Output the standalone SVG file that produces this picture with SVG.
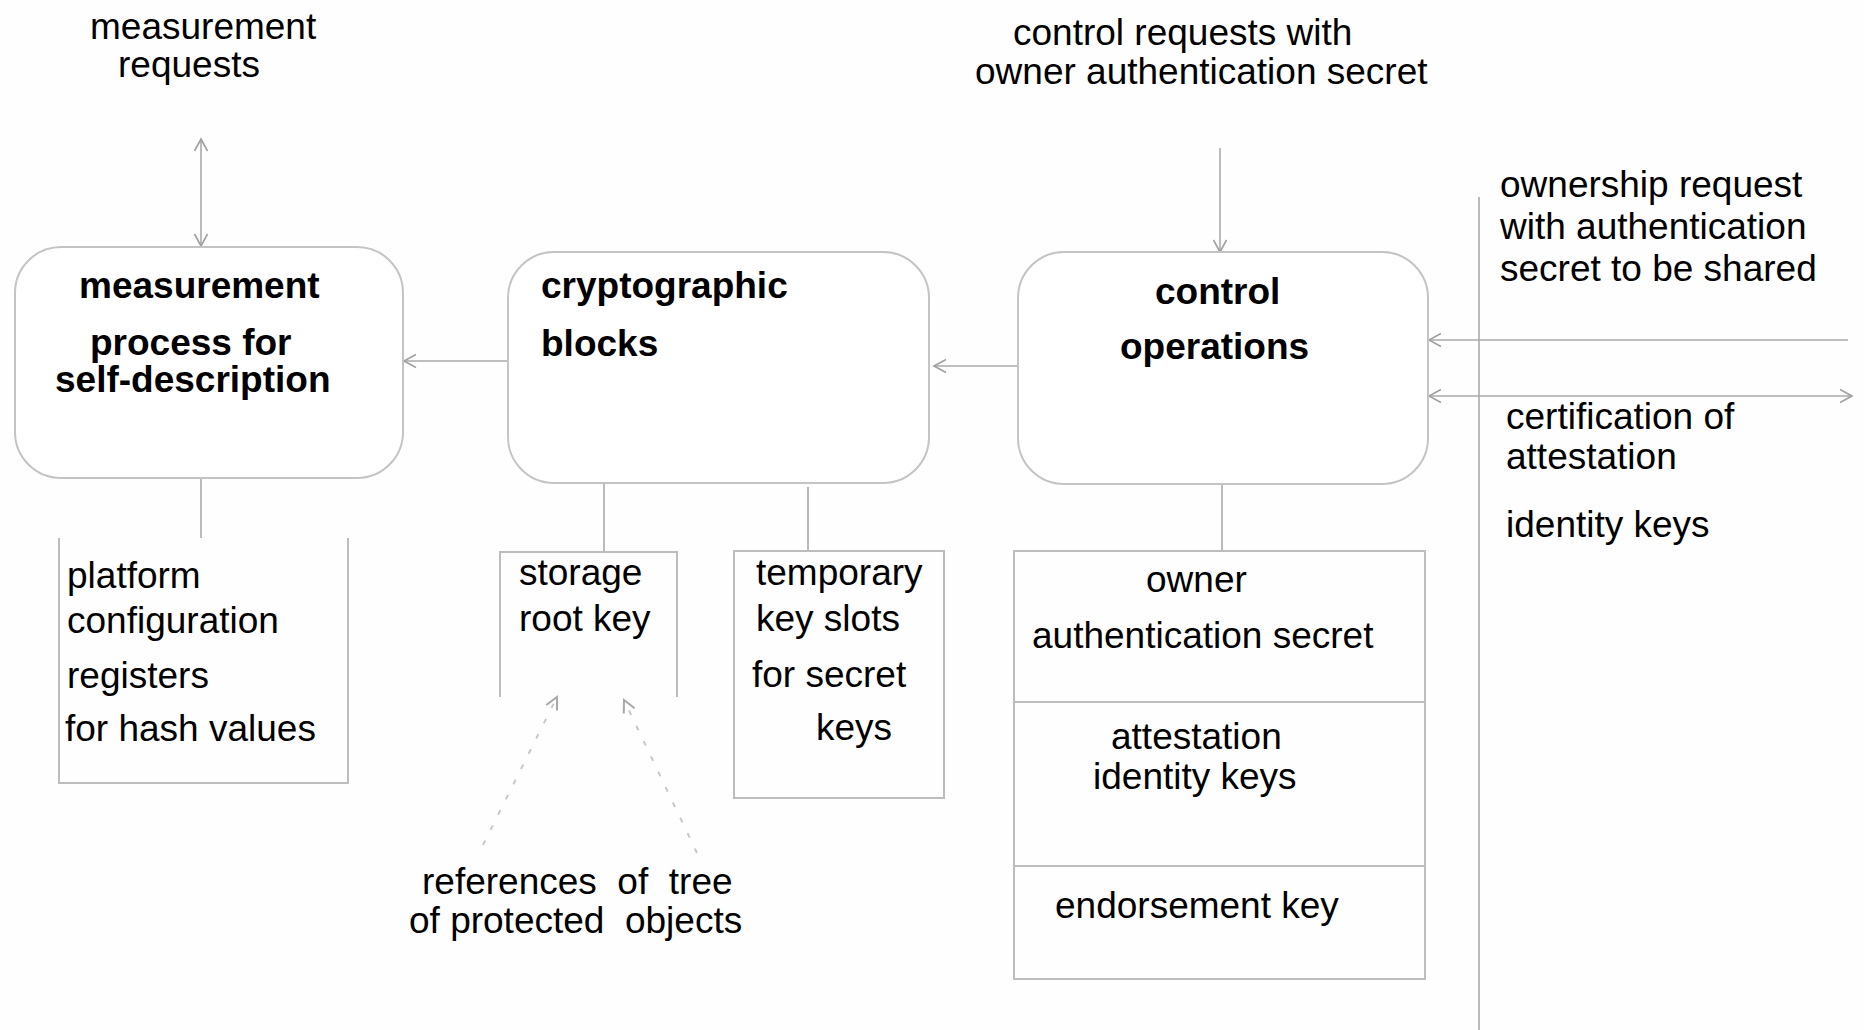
<svg xmlns="http://www.w3.org/2000/svg" width="1864" height="1030" viewBox="0 0 1864 1030">
  <style>
    text { font-family: "Liberation Sans", Arial, sans-serif; font-size: 37px; fill: #000; white-space: pre; }
    .b { font-weight: bold; }
    .node { fill: #fff; stroke: #c4c4c4; stroke-width: 2; }
    .box { fill: none; stroke: #bdbdbd; stroke-width: 2; }
    .wire { fill: none; stroke: #aaaaaa; stroke-width: 1.6; }
    .dash { fill: none; stroke: #c8c8c8; stroke-width: 2; stroke-dasharray: 5 12; }
  </style>
  <defs>
    <marker id="open" markerUnits="userSpaceOnUse" markerWidth="16" markerHeight="16" refX="13" refY="8" orient="auto-start-reverse" viewBox="0 0 16 16">
      <path d="M1,1.5 L13,8 L1,14.5" fill="none" stroke="#a0a0a0" stroke-width="1.6"/>
    </marker>
    <marker id="openFaint" markerUnits="userSpaceOnUse" markerWidth="16" markerHeight="16" refX="13" refY="8" orient="auto" viewBox="0 0 16 16">
      <path d="M1,2 L13,8 L1,14" fill="none" stroke="#a8a8a8" stroke-width="2"/>
    </marker>
  </defs>

  <rect width="1864" height="1030" fill="#fefefe"/>

  <!-- connectors -->
  <g id="connectors">
    <line class="wire" x1="201" y1="139" x2="201" y2="246" marker-start="url(#open)" marker-end="url(#open)"/>
    <line class="wire" x1="508" y1="361" x2="404" y2="361" marker-end="url(#open)"/>
    <line class="wire" x1="1018" y1="366" x2="934" y2="366" marker-end="url(#open)"/>
    <line class="wire" x1="1220" y1="148" x2="1220" y2="252" marker-end="url(#open)"/>
    <line class="wire" x1="1848" y1="340" x2="1429" y2="340" marker-end="url(#open)"/>
    <line class="wire" x1="1429" y1="396" x2="1852" y2="396" marker-start="url(#open)" marker-end="url(#open)"/>
    <line class="wire" x1="1479" y1="197" x2="1479" y2="1030"/>
    <line class="wire" x1="201" y1="478" x2="201" y2="538"/>
    <line class="wire" x1="604" y1="483" x2="604" y2="552"/>
    <line class="wire" x1="808" y1="487" x2="808" y2="551"/>
    <line class="wire" x1="1222" y1="484" x2="1222" y2="551"/>
    <line class="dash" x1="483" y1="845" x2="557" y2="697" marker-end="url(#openFaint)"/>
    <line class="dash" x1="697" y1="853" x2="624" y2="700" marker-end="url(#openFaint)"/>
  </g>

  <!-- outside labels -->
  <g id="label-measurement-requests">
    <text x="90" y="39">measurement</text>
    <text x="118" y="77">requests</text>
  </g>
  <g id="label-control-requests">
    <text x="1013" y="45">control requests with</text>
    <text x="975" y="84">owner authentication secret</text>
  </g>
  <g id="label-ownership-request">
    <text x="1500" y="197">ownership request</text>
    <text x="1500" y="239">with authentication</text>
    <text x="1500" y="281">secret to be shared</text>
  </g>
  <g id="label-certification">
    <text x="1506" y="429">certification of</text>
    <text x="1506" y="469">attestation</text>
    <text x="1506" y="537">identity keys</text>
  </g>
  <g id="label-references">
    <text x="422" y="894">references  of  tree</text>
    <text x="409" y="933">of protected  objects</text>
  </g>

  <!-- process nodes -->
  <g id="node-measurement">
    <rect class="node" x="15" y="247" width="388" height="231" rx="46" ry="46"/>
    <text class="b" x="79" y="298">measurement</text>
    <text class="b" x="90" y="355">process for</text>
    <text class="b" x="55" y="392">self-description</text>
  </g>
  <g id="node-crypto">
    <rect class="node" x="508" y="252" width="421" height="231" rx="46" ry="46"/>
    <text class="b" x="541" y="298">cryptographic</text>
    <text class="b" x="541" y="356">blocks</text>
  </g>
  <g id="node-control">
    <rect class="node" x="1018" y="252" width="410" height="232" rx="46" ry="46"/>
    <text class="b" x="1155" y="304">control</text>
    <text class="b" x="1120" y="359">operations</text>
  </g>

  <!-- storage nodes -->
  <g id="node-pcr">
    <path class="box" d="M59,538 V783 H348 V538"/>
    <text x="67" y="588">platform</text>
    <text x="67" y="633">configuration</text>
    <text x="67" y="688">registers</text>
    <text x="65" y="741">for hash values</text>
  </g>
  <g id="node-srk">
    <path class="box" d="M500,697 V552 H677 V697"/>
    <text x="519" y="585">storage</text>
    <text x="519" y="631">root key</text>
  </g>
  <g id="node-slots">
    <rect class="box" x="734" y="551" width="210" height="247"/>
    <text x="756" y="585">temporary</text>
    <text x="756" y="631">key slots</text>
    <text x="752" y="687">for secret</text>
    <text x="816" y="740">keys</text>
  </g>
  <g id="node-secrets">
    <rect class="box" x="1014" y="551" width="411" height="428"/>
    <line class="box" x1="1014" y1="702" x2="1425" y2="702"/>
    <line class="box" x1="1014" y1="866" x2="1425" y2="866"/>
    <text x="1146" y="592">owner</text>
    <text x="1032" y="648">authentication secret</text>
    <text x="1111" y="749">attestation</text>
    <text x="1093" y="789">identity keys</text>
    <text x="1055" y="918">endorsement key</text>
  </g>
</svg>
